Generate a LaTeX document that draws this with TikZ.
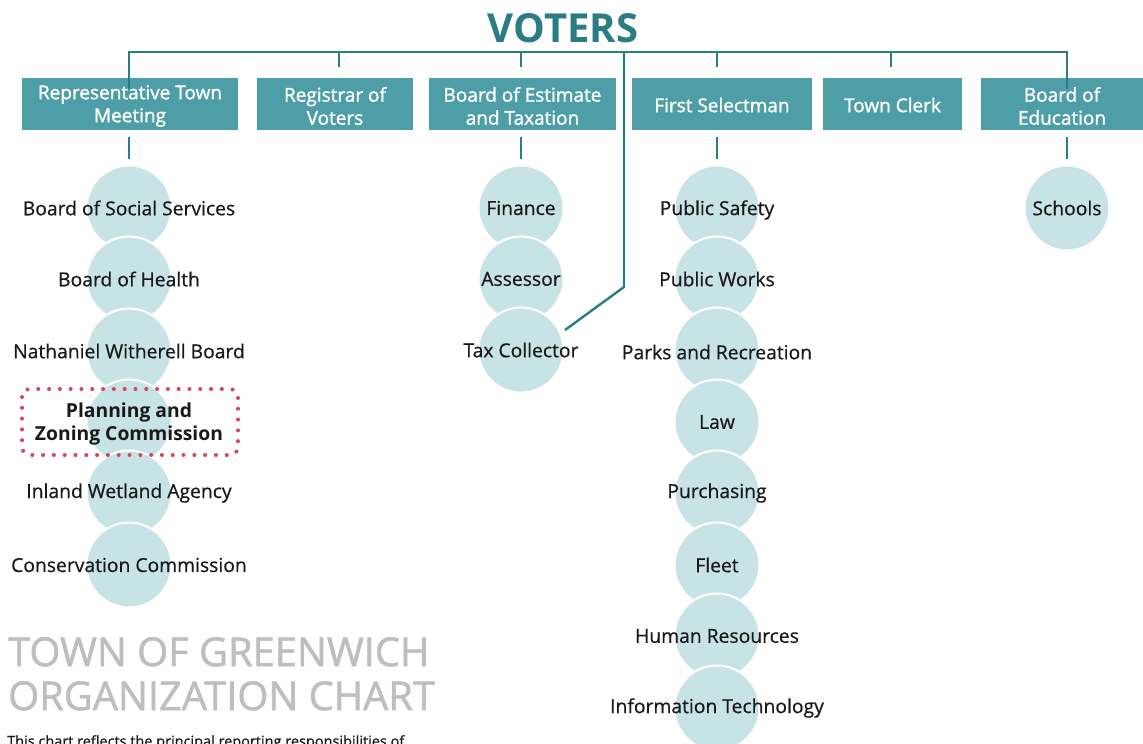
\documentclass[tikz,border=0pt]{standalone}
\usepackage{fontspec}
\setmainfont{Open Sans}
\newfontfamily\regf{Open Sans}[FakeBold=0.6]
\newfontfamily\semif{Open Sans}[FakeBold=1.4]
\newfontfamily\ttlf{Open Sans}[FakeBold=1.4]
\usetikzlibrary{positioning}
\definecolor{teal}{HTML}{2A7D84}
\definecolor{boxc}{HTML}{4E9EA7}
\definecolor{circc}{HTML}{C8E3E5}
\definecolor{titleg}{HTML}{BEBEBE}
\definecolor{dotred}{HTML}{D8435F}
\tikzset{
  topbox/.style={fill=boxc, inner sep=0pt, minimum height=52pt},
  boxtxt/.style={text=white, inner sep=0pt, align=center, font=\semif\fontsize{19}{23}\selectfont},
  unit/.style={circle, fill=circc, draw=white, line width=2pt, minimum size=85pt, inner sep=0pt},
  lbl/.style={text=black!90, font=\regf\fontsize{19.3}{23}\selectfont, align=center},
  conn/.style={draw=teal, line width=2.4pt},
}
\begin{document}
\begin{tikzpicture}[x=1pt,y=-1pt]
\useasboundingbox (0,0) rectangle (1143,744);
% title
\node[text=teal, font=\fontsize{40}{44}\bfseries\selectfont] (voters) at (563,28) {VOTERS};
% top boxes
\node[topbox, minimum width=216pt] (rtm) at (130,104) {};
\node[topbox, minimum width=156pt] (reg) at (335,104) {};
\node[topbox, minimum width=187pt] (bet) at (522.5,104) {};
\node[topbox, minimum width=180pt] (fs) at (722,104) {};
\node[topbox, minimum width=139pt] (tc) at (892.5,104) {};
\node[topbox, minimum width=162pt] (boe) at (1062,104) {};
\node[boxtxt] at ([yshift=-2pt]rtm.center) {Representative Town\\Meeting};
\node[boxtxt] at ([yshift=-2pt]reg.center) {Registrar of\\Voters};
\node[boxtxt] at ([yshift=-2pt]bet.center) {Board of Estimate\\and Taxation};
\node[boxtxt] at ([yshift=-1pt]fs.center) {First Selectman};
\node[boxtxt] at ([yshift=-1pt]tc.center) {Town Clerk};
\node[boxtxt] at ([yshift=-2pt]boe.center) {Board of\\Education};
% bus
\coordinate (busL) at (129,52);
\coordinate (busR) at (1067,52);
\coordinate (vdrop) at (624,52);
\coordinate (vbend) at (624,287);
\coordinate (vend) at (565,330);
\draw[conn] ([yshift=-11pt]busL |- rtm.north) -- (busL) -- (busR) -- ([yshift=-11pt]busR |- boe.north);
\foreach \n/\x in {reg/339, bet/521, fs/717, tc/891} {
  \draw[conn] (\x,52) -- (\x,67);
}
% columns of circles
\foreach \i/\y in {1/208,2/279,3/351,4/422,5/493,6/565} { \node[unit] (l\i) at (129,\y) {}; }
\foreach \i/\y in {1/208,2/279,3/350} { \node[unit] (m\i) at (521,\y) {}; }
\foreach \i/\y in {1/208,2/279,3/350,4/422,5/493,6/565,7/636,8/708} { \node[unit] (r\i) at (717,\y) {}; }
\node[unit] (s1) at (1067,208) {};
% connectors under boxes
\draw[conn] ([yshift=-7pt]l1.north |- rtm.south) -- ([yshift=6pt]l1.north);
\draw[conn] ([yshift=-7pt]m1.north |- bet.south) -- ([yshift=6pt]m1.north);
\draw[conn] ([yshift=-7pt]r1.north |- fs.south) -- ([yshift=6pt]r1.north);
\draw[conn] ([yshift=-7pt]s1.north |- boe.south) -- ([yshift=6pt]s1.north);
% voters line
\draw[conn] (vdrop) -- (vbend) -- (vend);
% labels
\node[lbl] at (l1) {Board of Social Services};
\node[lbl] at (l2) {Board of Health};
\node[lbl] at (l3) {Nathaniel Witherell Board};
\node[lbl, font=\fontsize{19.3}{23}\bfseries\selectfont] (pzc) at ([yshift=-2pt]l4) {Planning and\\Zoning Commission};
\node[lbl] at (l5) {Inland Wetland Agency};
\node[lbl] at (l6) {Conservation Commission};
\node[lbl] at (m1) {Finance};
\node[lbl] at (m2) {Assessor};
\node[lbl] at (m3) {Tax Collector};
\node[lbl] at ([yshift=-2pt]r1) {Public Safety};
\node[lbl] at (r2) {Public Works};
\node[lbl] at ([yshift=-2pt]r3) {Parks and Recreation};
\node[lbl] at (r4) {Law};
\node[lbl] at (r5) {Purchasing};
\node[lbl] at (r6) {Fleet};
\node[lbl] at (r7) {Human Resources};
\node[lbl] at (r8) {Information Technology};
\node[lbl] at (s1) {Schools};
% highlight
\draw[dotred, line width=4pt, line cap=round, dash pattern=on 0pt off 10.8pt, rounded corners=8pt] (22,389) rectangle (238,455);
% title text
\node[anchor=north west, text=titleg, inner sep=0pt, align=left, font=\ttlf\fontsize{39.8}{44}\selectfont] (ttl) at (8,637) {TOWN OF GREENWICH\\ORGANIZATION CHART};
\node[anchor=north west, inner sep=0pt, text=black!90, font=\regf\fontsize{14.5}{16}\selectfont] (sub) at (7,735) {This chart reflects the principal reporting responsibilities of};
\end{tikzpicture}
\end{document}
